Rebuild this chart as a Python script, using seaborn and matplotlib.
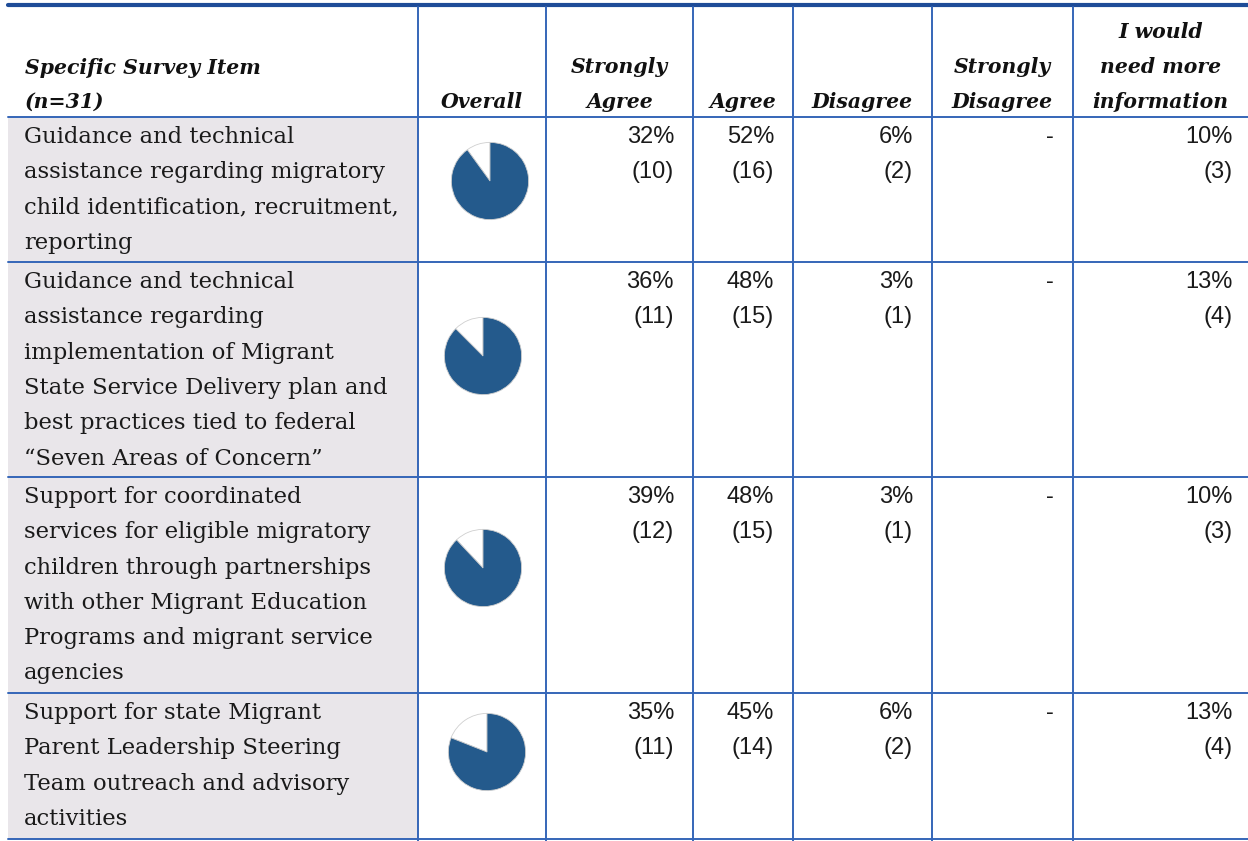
import matplotlib
matplotlib.use("Agg")
import matplotlib.pyplot as plt
import seaborn as sns

# Survey table data (n=31)
items = [
    ["Guidance and technical", "assistance regarding migratory",
     "child identification, recruitment,", "reporting"],
    ["Guidance and technical", "assistance regarding",
     "implementation of Migrant", "State Service Delivery plan and",
     "best practices tied to federal", "\u201cSeven Areas of Concern\u201d"],
    ["Support for coordinated", "services for eligible migratory",
     "children through partnerships", "with other Migrant Education",
     "Programs and migrant service", "agencies"],
    ["Support for state Migrant", "Parent Leadership Steering",
     "Team outreach and advisory", "activities"],
]
response_headers = [["Strongly", "Agree"], ["Agree"], ["Disagree"],
                    ["Strongly", "Disagree"], ["I would", "need more", "information"]]
pct = [
    [32, 52, 6, None, 10],
    [36, 48, 3, None, 13],
    [39, 48, 3, None, 10],
    [35, 45, 6, None, 13],
]
counts = [
    [10, 16, 2, None, 3],
    [11, 15, 1, None, 4],
    [12, 15, 1, None, 3],
    [11, 14, 2, None, 4],
]
# share of the "Overall" pie that is filled
overall_filled = [0.90, 0.875, 0.88, 0.81]

sns.set_theme(style="white")
plt.rcParams['font.family'] = ['DejaVu Serif']

# layout in pixel units
W, H = 1248, 841
col_edges = [8, 418, 546, 693, 793, 932, 1073, 1252]
row_edges = [117, 262, 477, 693, 839]
line_col = "#3566B8"
pie_blue = "#245A8C"
shade = "#E9E6EA"

fig = plt.figure(figsize=(12.48, 8.41), dpi=100)
ax = fig.add_axes([0, 0, 1, 1])
ax.set_xlim(0, W)
ax.set_ylim(H, 0)
ax.axis("off")

# shaded item column
ax.fill_between([col_edges[0], col_edges[1]], row_edges[0], row_edges[-1],
                color=shade, lw=0, zorder=0)

# grid lines
ax.plot([col_edges[0], W], [5, 5], color="#1E4C98", lw=3.0, zorder=3)
for y in row_edges:
    ax.plot([col_edges[0], W], [y, y], color=line_col, lw=1.4, zorder=3)
for x in col_edges[1:-1]:
    ax.plot([x, x], [7, H], color=line_col, lw=1.4, zorder=3)

# header
hdr = dict(fontsize=14.7, fontweight="bold", fontstyle="italic", color="#111111",
           va="center")
ax.text(25, 68, "Specific Survey Item", ha="left", **hdr)
ax.text(25, 102, "(n=31)", ha="left", **hdr)
ax.text((col_edges[1] + col_edges[2]) / 2, 102, "Overall", ha="center", **hdr)
for j, lines in enumerate(response_headers):
    right = min(col_edges[j + 3], W)
    cx = (col_edges[j + 2] + right) / 2
    for k, line in enumerate(lines):
        y = 102 - 35 * (len(lines) - 1 - k)
        ax.text(cx, y, line, ha="center", **hdr)

# rows
line_h = 35.3
num = dict(fontsize=17, family="Liberation Sans", color="#1a1a1a", va="center",
           ha="right")
for i, lines in enumerate(items):
    top = row_edges[i]
    for k, line in enumerate(lines):
        ax.text(24, top + 20 + k * line_h, line, ha="left", va="center",
                fontsize=16.3, color="#1a1a1a")
    for j in range(5):
        xr = col_edges[j + 3] - 19
        if pct[i][j] is None:
            ax.text(xr, top + 20, "-", **num)
            continue
        ax.text(xr, top + 20, f"{pct[i][j]}%", **num)
        ax.text(xr, top + 55, f"({counts[i][j]})", **num)

# overall pies
pie_centers_y = [181, 356, 568, 752]
pie_centers_x = [490, 483, 483, 487]
r = 39
for i, filled in enumerate(overall_filled):
    cx, cy = pie_centers_x[i], pie_centers_y[i]
    pax = fig.add_axes([(cx - r) / W, 1 - (cy + r) / H, 2 * r / W, 2 * r / H])
    pax.pie([1 - filled, filled], colors=["white", pie_blue], startangle=90,
            counterclock=True,
            wedgeprops=dict(edgecolor="#cfcfcf", linewidth=0.6))
    pax.set_xlim(-1.01, 1.01)
    pax.set_ylim(-1.01, 1.01)
    pax.set_aspect("equal")
    pax.axis("off")

fig.savefig("out.png", dpi=100)
